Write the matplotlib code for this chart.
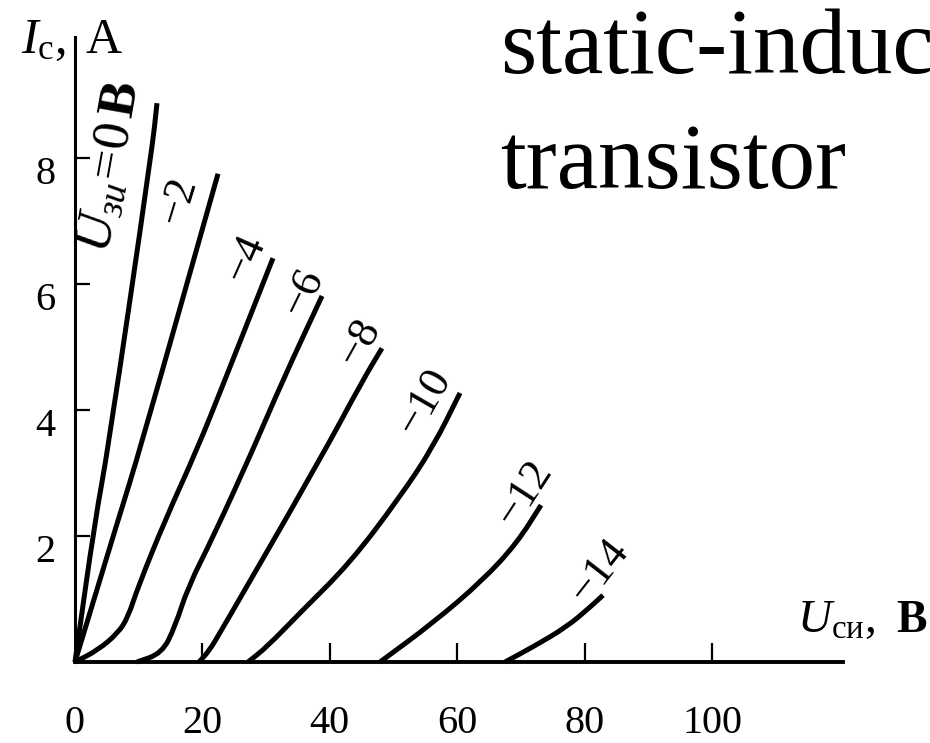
import matplotlib
matplotlib.use("Agg")
import matplotlib.pyplot as plt
from matplotlib.transforms import ScaledTranslation
from matplotlib.path import Path
from matplotlib.patches import PathPatch

plt.rcParams['font.family'] = ['Liberation Serif', 'DejaVu Serif']
plt.rcParams['mathtext.fontset'] = 'custom'
plt.rcParams['mathtext.rm'] = 'Liberation Serif'
plt.rcParams['mathtext.it'] = 'Liberation Serif:italic'
plt.rcParams['mathtext.bf'] = 'Liberation Serif:bold'

# ---- data ----
gate_labels = ["0", "−2", "−4", "−6", "−8", "−10", "−12", "−14"]

u0_x = [0, 3.14, 5.18, 12.09, 12.87]
u0_y = [0, 2.25, 3.37, 8.13, 8.87]

u2_x = [0, 6.75, 10.2, 22.45]
u2_y = [0, 2.25, 3.37, 7.75]

u4_x = [0, 3.61, 6.75, 8.32, 9.89, 14.13, 19.15, 23.55, 31.08]
u4_y = [0, 0.19, 0.46, 0.71, 1.19, 2.25, 3.37, 4.48, 6.41]

u6_x = [9.73, 13.66, 15.7, 17.74, 21.66, 27.94, 32.65, 38.78]
u6_y = [0, 0.14, 0.56, 1.19, 1.98, 3.37, 4.48, 5.81]

u8_x = [19.47, 21.0, 22.76, 38.46, 45.21, 48.19]
u8_y = [0, 0.17, 0.46, 3.21, 4.48, 4.98]

u10_x = [27.16, 30.14, 35.32, 43.17, 51.02, 56.2, 60.44]
u10_y = [0, 0.24, 0.78, 1.57, 2.62, 3.41, 4.27]

u12_x = [47.88, 56.2, 64.05, 69.39, 73.16]
u12_y = [0, 0.62, 1.30, 1.89, 2.49]

u14_x = [67.5, 71.9, 77.24, 80.85, 82.89]
u14_y = [0, 0.24, 0.56, 0.87, 1.06]

x_ticks = [0, 20, 40, 60, 80, 100]
y_ticks = [2, 4, 6, 8]

curves_x = [u0_x, u2_x, u4_x, u6_x, u8_x, u10_x, u12_x, u14_x]
curves_y = [u0_y, u2_y, u4_y, u6_y, u8_y, u10_y, u12_y, u14_y]


def smooth_path(xv, yv):
    """Quadratic-Bezier path through the midpoints of the read points."""
    pts = list(zip(xv, yv))
    if len(pts) < 3:
        return Path(pts, [Path.MOVETO] + [Path.LINETO] * (len(pts) - 1))
    verts = [pts[0]]
    codes = [Path.MOVETO]
    mid = lambda a, b: ((a[0] + b[0]) / 2, (a[1] + b[1]) / 2)
    verts.append(mid(pts[0], pts[1]))
    codes.append(Path.LINETO)
    for i in range(1, len(pts) - 1):
        verts += [pts[i], mid(pts[i], pts[i + 1])]
        codes += [Path.CURVE3, Path.CURVE3]
    verts.append(pts[-1])
    codes.append(Path.LINETO)
    return Path(verts, codes)


# ---- figure ----
W, H = 930, 743
fig = plt.figure(figsize=(W / 100, H / 100), dpi=100)
fig.patch.set_facecolor('white')

ox, oy = 75, 662          # origin pixel
xend, ytop = 843, 37
xs, ys = 6.37, 63.0       # px per unit
ax = fig.add_axes([ox / W, (H - oy) / H, (xend - ox) / W, (oy - ytop) / H])
ax.set_xlim(0, (xend - ox) / xs)
ax.set_ylim(0, (oy - ytop) / ys)
ax.patch.set_alpha(0)

for s in ['top', 'right']:
    ax.spines[s].set_visible(False)
ax.spines['left'].set_linewidth(2.2)
ax.spines['bottom'].set_linewidth(2.8)

for cx, cy in zip(curves_x, curves_y):
    ax.add_patch(PathPatch(smooth_path(cx, cy), fill=False, edgecolor='black',
                           lw=3.6, capstyle='butt', joinstyle='round',
                           clip_on=False))

ax.set_xticks(x_ticks)
ax.set_xticklabels([str(v) for v in x_ticks])
ax.set_yticks(y_ticks)
ax.set_yticklabels([str(v) for v in y_ticks])
ax.tick_params(axis='x', direction='in', length=14, width=1.6, pad=31,
               labelsize=29)
ax.tick_params(axis='y', direction='in', length=11, width=1.6, pad=14,
               labelsize=29)
ax.xaxis.get_major_ticks()[0].tick1line.set_visible(False)
off = ScaledTranslation(0, -0.12, fig.dpi_scale_trans)
for lab in ax.get_yticklabels():
    lab.set_transform(lab.get_transform() + off)

# ---- curve labels ----
lab_pos_x = [5.5, 16.2, 26.7, 35.8, 44.7, 54.9, 70.6, 82.4]
lab_pos_y = [7.86, 7.33, 6.41, 5.87, 5.08, 4.13, 2.68, 1.44]
lab_rot = [80, 73, 66, 64, 61, 60, 57, 52]
for i, (lx, ly, r) in enumerate(zip(lab_pos_x, lab_pos_y, lab_rot)):
    if i == 0:
        txt = r"$U_{зи}\!=\!0\,\mathbf{B}$"
        fs = 38
    else:
        txt = gate_labels[i]
        fs = 32
    ax.text(lx, ly, txt, rotation=r, rotation_mode='anchor',
            ha='center', va='center', fontsize=fs, clip_on=False)

# ---- axis labels ----
def fx(px):
    return px / W

def fy(py):
    return 1 - py / H

fig.text(fx(66), fy(53), r"$I_{\mathrm{c}}$,", fontsize=36, ha='right',
         va='baseline')
fig.text(fx(85), fy(53), "A", fontsize=36, ha='left', va='baseline')
fig.text(fx(797), fy(632), r"$U_{\mathrm{си}}$,", fontsize=34, ha='left',
         va='baseline')
fig.text(fx(896), fy(632), "B", fontsize=33, ha='left', va='baseline',
         fontweight='bold')

# ---- overlay title text (runs off the right edge, as in the source) ----
fig.text(fx(500), fy(73), "static-induction", fontsize=67, ha='left',
         va='baseline')
fig.text(fx(500), fy(188), "transistor", fontsize=67, ha='left',
         va='baseline')

fig.savefig("out.png", dpi=100, facecolor='white')
